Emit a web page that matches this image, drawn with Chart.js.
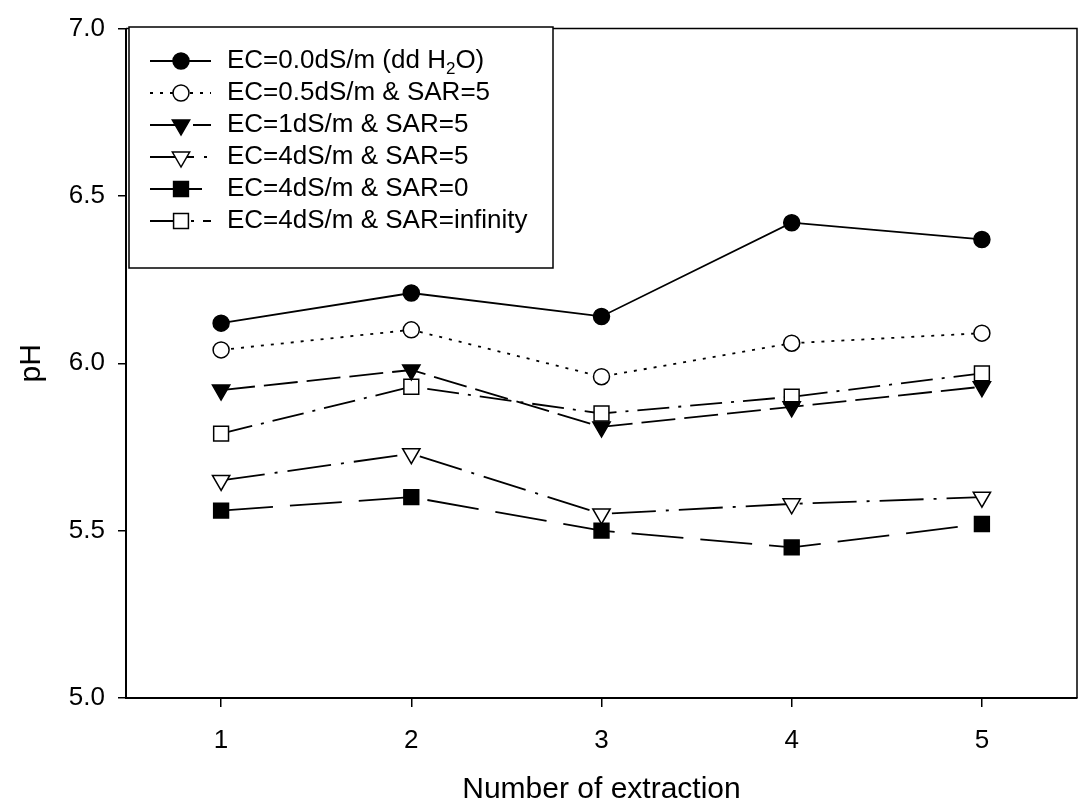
<!DOCTYPE html>
<html>
<head>
<meta charset="utf-8">
<script src="https://cdn.jsdelivr.net/npm/chart.js@4.4.1/dist/chart.umd.min.js"></script>
<style>
  html, body { margin: 0; padding: 0; background: #fff; }
  canvas { display: block; }
</style>
</head>
<body>
<canvas id="ph-chart" width="1089" height="811"></canvas>
<script>
// x = extraction number, y = pH
const extraction = [1, 2, 3, 4, 5];
const phTicks = [5.0, 5.5, 6.0, 6.5, 7.0];

const seriesLabels = [
    'EC=0.0dS/m (dd H₂O)',
    'EC=0.5dS/m & SAR=5',
    'EC=1dS/m & SAR=5',
    'EC=4dS/m & SAR=5',
    'EC=4dS/m & SAR=0',
    'EC=4dS/m & SAR=infinity'
];
const ddWater   = [6.12, 6.21, 6.14, 6.42, 6.37];
const ec05sar5  = [6.04, 6.10, 5.96, 6.06, 6.09];
const ec1sar5   = [5.92, 5.98, 5.81, 5.87, 5.93];
const ec4sar5   = [5.65, 5.73, 5.55, 5.58, 5.60];
const ec4sar0   = [5.56, 5.60, 5.50, 5.45, 5.52];
const ec4sarInf = [5.79, 5.93, 5.85, 5.90, 5.97];

const seriesValues = [ddWater, ec05sar5, ec1sar5, ec4sar5, ec4sar0, ec4sarInf];

// marker / line look for each series
const looks = [
    { shape: 'circle',   filled: true,  dash: [] },
    { shape: 'circle',   filled: false, dash: [3, 7] },
    { shape: 'triangle', filled: true,  dash: [34, 9] },
    { shape: 'triangle', filled: false, dash: [44, 10, 3, 10] },
    { shape: 'rect',     filled: true,  dash: [52, 17] },
    { shape: 'rect',     filled: false, dash: [32, 9, 3, 9] }
];
const radii = { circle: 8, triangle: 10, rect: 10.5 };

const FONT = '"Liberation Sans", Arial, Helvetica, sans-serif';
Chart.defaults.font.family = FONT;
Chart.defaults.color = '#000';

function drawMarker(ctx, look, x, y) {
    const r = radii[look.shape];
    ctx.beginPath();
    if (look.shape === 'circle') {
        ctx.arc(x, y, r, 0, Math.PI * 2);
    } else if (look.shape === 'triangle') {
        // pointing down
        ctx.moveTo(x, y + r);
        ctx.lineTo(x - r * 0.866, y - r * 0.5);
        ctx.lineTo(x + r * 0.866, y - r * 0.5);
        ctx.closePath();
    } else {
        const s = r * Math.SQRT1_2;
        ctx.rect(x - s, y - s, 2 * s, 2 * s);
    }
    ctx.fillStyle = look.filled ? '#000' : '#fff';
    ctx.fill();
    ctx.lineWidth = 1.5;
    ctx.strokeStyle = '#000';
    ctx.stroke();
}

const frameAndLegend = {
    id: 'frameAndLegend',
    afterDraw(chart) {
        const ctx = chart.ctx;
        const a = chart.chartArea;
        ctx.save();
        // top and right edges of the frame
        ctx.strokeStyle = '#000';
        ctx.lineWidth = 1.5;
        ctx.beginPath();
        ctx.moveTo(a.left, a.top);
        ctx.lineTo(a.right, a.top);
        ctx.lineTo(a.right, a.bottom);
        ctx.stroke();

        // boxed legend in the upper left corner
        const bx = 129, by = 27, bw = 424, bh = 241;
        ctx.fillStyle = '#fff';
        ctx.fillRect(bx, by, bw, bh);
        ctx.strokeRect(bx, by, bw, bh);

        seriesLabels.forEach((label, i) => {
            const y = 61 + i * 32;
            ctx.lineWidth = 1.8;
            ctx.setLineDash(looks[i].dash);
            ctx.beginPath();
            ctx.moveTo(150, y);
            ctx.lineTo(211, y);
            ctx.stroke();
            ctx.setLineDash([]);
            drawMarker(ctx, looks[i], 181, y);

            ctx.fillStyle = '#000';
            ctx.textBaseline = 'middle';
            ctx.textAlign = 'left';
            let x = 227;
            const parts = label.split('₂');
            parts.forEach((part, k) => {
                ctx.font = '26px ' + FONT;
                ctx.fillText(part, x, y);
                x += ctx.measureText(part).width;
                if (k < parts.length - 1) {
                    ctx.font = '17px ' + FONT;
                    ctx.fillText('2', x, y + 8);
                    x += ctx.measureText('2').width;
                }
            });
        });
        ctx.restore();
    }
};

const datasets = seriesValues.map((vals, i) => ({
    label: seriesLabels[i],
    data: extraction.map((x, k) => ({ x: x, y: vals[k] })),
    borderColor: '#000',
    borderWidth: 1.8,
    borderDash: looks[i].dash,
    backgroundColor: looks[i].filled ? '#000' : '#fff',
    pointStyle: looks[i].shape,
    pointRotation: looks[i].shape === 'triangle' ? 180 : 0,
    pointRadius: radii[looks[i].shape],
    pointBorderColor: '#000',
    pointBorderWidth: 1.5,
    pointBackgroundColor: looks[i].filled ? '#000' : '#fff',
    tension: 0,
    fill: false
}));

new Chart(document.getElementById('ph-chart'), {
    type: 'line',
    data: { datasets: datasets },
    plugins: [frameAndLegend],
    options: {
        responsive: false,
        animation: false,
        devicePixelRatio: 1,
        layout: { padding: { top: 28, right: 3, left: 0, bottom: 0 } },
        plugins: { legend: { display: false }, tooltip: { enabled: false } },
        scales: {
            x: {
                type: 'linear',
                min: 0.5,
                max: 5.5,
                afterBuildTicks: s => { s.ticks = extraction.map(v => ({ value: v })); },
                afterFit: s => { s.height = 113; },
                ticks: { font: { size: 26 }, color: '#000', padding: 18, callback: v => v },
                grid: { drawOnChartArea: false, tickLength: 9, color: '#000', lineWidth: 1.5 },
                border: { color: '#000', width: 2 },
                title: { display: true, text: 'Number of extraction', font: { size: 30 }, color: '#000', padding: { top: 0, bottom: 3 } }
            },
            y: {
                type: 'linear',
                min: 5,
                max: 7,
                afterBuildTicks: s => { s.ticks = phTicks.map(v => ({ value: v })); },
                afterFit: s => { s.width = 126; },
                ticks: { font: { size: 26 }, color: '#000', padding: 13, callback: v => Number(v).toFixed(1) },
                grid: { drawOnChartArea: false, tickLength: 8, color: '#000', lineWidth: 1.5 },
                border: { color: '#000', width: 2 },
                title: { display: true, text: 'pH', font: { size: 30 }, color: '#000', padding: { top: 14, bottom: 0 } }
            }
        }
    }
});
</script>
</body>
</html>
